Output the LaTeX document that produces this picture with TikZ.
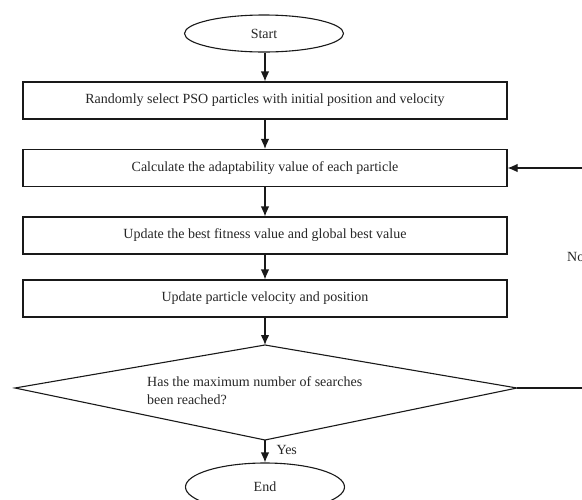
\documentclass[tikz,border=0pt]{standalone}
\usepackage{fontspec}
\setmainfont{Liberation Serif}
\usetikzlibrary{shapes.geometric,arrows.meta}
\begin{document}
\begin{tikzpicture}[x=1pt,y=-1pt,
  every node/.style={font=\fontsize{14}{18}\selectfont, text=black!85},
  line/.style={draw=black!90, line width=1.1pt},
  arr/.style={line, -{Latex[length=10pt,width=8.5pt]}},
  term/.style={ellipse, line, minimum width=159pt, inner sep=0pt},
  proc/.style={rectangle, line, minimum width=484pt, minimum height=37pt, inner sep=0pt}]
\useasboundingbox (0,0) rectangle (582,499);
\clip (0,0) rectangle (582,499);
\node[term, minimum height=37pt] (start) at (264,33.5) {Start};
\node[proc] (b1) at (265,100.5) {Randomly select PSO particles with initial position and velocity};
\node[proc] (b2) at (265,168) {Calculate the adaptability value of each particle};
\node[proc] (b3) at (265,235.5) {Update the best fitness value and global best value};
\node[proc] (b4) at (265,298.5) {Update particle velocity and position};
\coordinate (dt) at (265,345);
\coordinate (dl) at (15,388);
\coordinate (dr) at (517,388);
\coordinate (db) at (265,440);
\draw[line] (dt) -- (dr) -- (db) -- (dl) -- cycle;
\node[anchor=west, align=left, inner sep=0pt] (dec) at (147,391) {Has the maximum number of searches\\been reached?};
\node[term, minimum height=48pt] (end) at (265,487) {End};
\coordinate (loop) at (600,300);
\draw[arr] (start.south -| b1.north) -- (b1.north);
\draw[arr] (b1) -- (b2);
\draw[arr] (b2) -- (b3);
\draw[arr] (b3) -- (b4);
\draw[arr] (b4.south) -- (dt);
\draw[arr] (db) -- (end.north) node[pos=0.45, anchor=west, inner sep=0pt, xshift=11pt] (yes) {Yes};
\draw[arr] (dr) -| (loop) |- (b2.east);
\node[anchor=west, inner sep=0pt] (no) at (567,257) {No};
\end{tikzpicture}
\end{document}
